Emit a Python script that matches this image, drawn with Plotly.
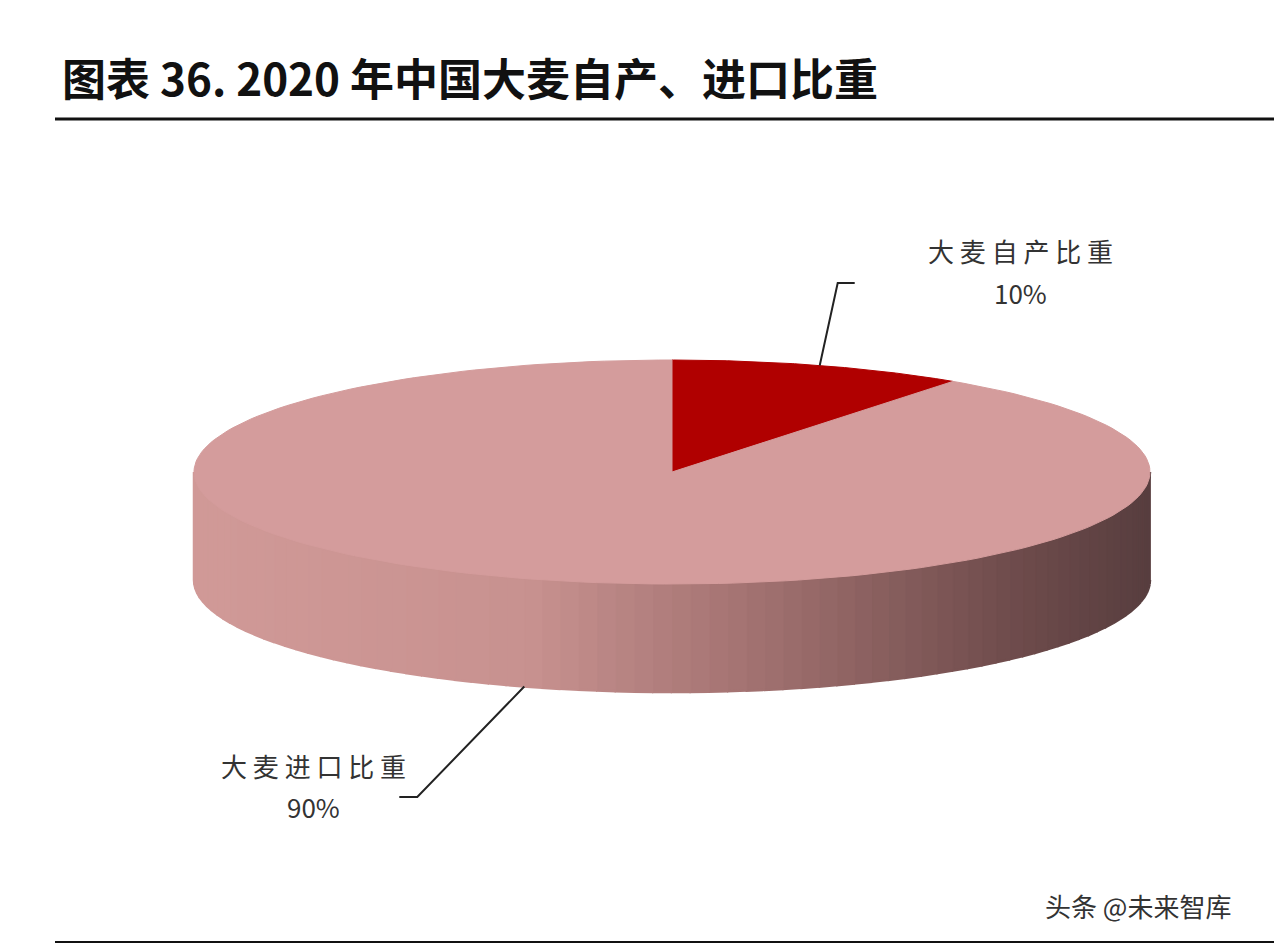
import numpy as np
import plotly.graph_objects as go

labels = ["大麦自产比重", "大麦进口比重"]
values = [10, 90]
colors = ["#B00000", "#D49C9C"]

W, H = 1282, 946
OFF = 8  # page body margin
cx, cy, rx, ry, depth = 672, 472, 478, 112, 108

def pt(a_deg, dy=0):
    a = np.radians(a_deg)
    return cx + rx * np.sin(a), cy - ry * np.cos(a) + dy

def side_color(x):
    u = (x - (cx - rx)) / (2 * rx)
    stops = [(0, (209, 154, 152)), (0.35, (200, 146, 144)), (0.6, (160, 112, 111)),
             (0.85, (112, 77, 77)), (1, (88, 62, 63))]
    for (u0, c0), (u1, c1) in zip(stops, stops[1:]):
        if u <= u1:
            t = (u - u0) / (u1 - u0)
            c = [int(c0[i] + t * (c1[i] - c0[i])) for i in range(3)]
            return "rgb(%d,%d,%d)" % tuple(c)
    return "rgb(88,62,63)"

fig = go.Figure()

# side wall of the visible front half, drawn as strips for a gradient
n = 80
angs = np.linspace(90, 270, n + 1)
for a0, a1 in zip(angs[:-1], angs[1:]):
    aa = np.linspace(a0, a1, 4)
    xt, yt = pt(aa)
    xb, yb = pt(aa[::-1], depth)
    col = side_color((xt[0] + xt[-1]) / 2)
    fig.add_trace(go.Scatter(x=list(xt) + list(xb), y=list(yt) + list(yb), fill="toself",
                             fillcolor=col, line=dict(color=col, width=2.5), mode="lines",
                             hoverinfo="skip", showlegend=False))

# top face slices
start = 0
mids = []
for v, c in zip(values, colors):
    span = 360 * v / sum(values)
    aa = np.linspace(start, start + span, 200)
    xs, ys = pt(aa)
    fig.add_trace(go.Scatter(x=[cx] + list(xs) + [cx], y=[cy] + list(ys) + [cy], fill="toself",
                             fillcolor=c, line=dict(color=c, width=1), mode="lines",
                             hoverinfo="skip", showlegend=False))
    mids.append(start + span / 2)
    start += span

# leader lines and labels
x0, y0 = pt(mids[0])
fig.add_trace(go.Scatter(x=[x0, x0 + 18, x0 + 35], y=[y0, 283, 283], mode="lines",
                         line=dict(color="#222", width=2), hoverinfo="skip", showlegend=False))
x1, y1 = pt(mids[1], depth)
fig.add_trace(go.Scatter(x=[x1, x1 - 107, x1 - 125], y=[y1, 797, 797], mode="lines",
                         line=dict(color="#222", width=2), hoverinfo="skip", showlegend=False))

font = "Noto Sans CJK SC"
ann = [
    dict(x=1020, y=250, text="大 麦 自 产 比 重", size=26),
    dict(x=1020, y=292, text="10%", size=26),
    dict(x=313, y=765, text="大 麦 进 口 比 重", size=26),
    dict(x=313, y=806, text="90%", size=26),
]
annotations = [dict(x=a["x"], y=a["y"], xref="x", yref="y", text=a["text"], showarrow=False,
                    font=dict(family=font, size=a["size"], color="#333")) for a in ann]
annotations.append(dict(x=60, y=77, xref="x", yref="y", xanchor="left", showarrow=False,
                        text="<b>图表 36. 2020 年中国大麦自产、进口比重</b>",
                        font=dict(family=font, size=44, color="#111")))
annotations.append(dict(x=1138, y=905, xref="x", yref="y", showarrow=False, text="头条 @未来智库",
                        font=dict(family=font, size=26, color="#333")))

fig.update_layout(
    width=W, height=H, margin=dict(l=0, r=0, t=0, b=0),
    paper_bgcolor="white", plot_bgcolor="white",
    xaxis=dict(range=[OFF, W + OFF], visible=False, fixedrange=True),
    yaxis=dict(range=[H + OFF, OFF], visible=False, fixedrange=True),
    annotations=annotations,
    shapes=[dict(type="line", xref="x", yref="y", x0=55, x1=1290, y0=119, y1=119,
                 line=dict(color="#111", width=3)),
            dict(type="line", xref="x", yref="y", x0=55, x1=1290, y0=942, y1=942,
                 line=dict(color="#111", width=2))],
)

fig.write_html("out.html")
